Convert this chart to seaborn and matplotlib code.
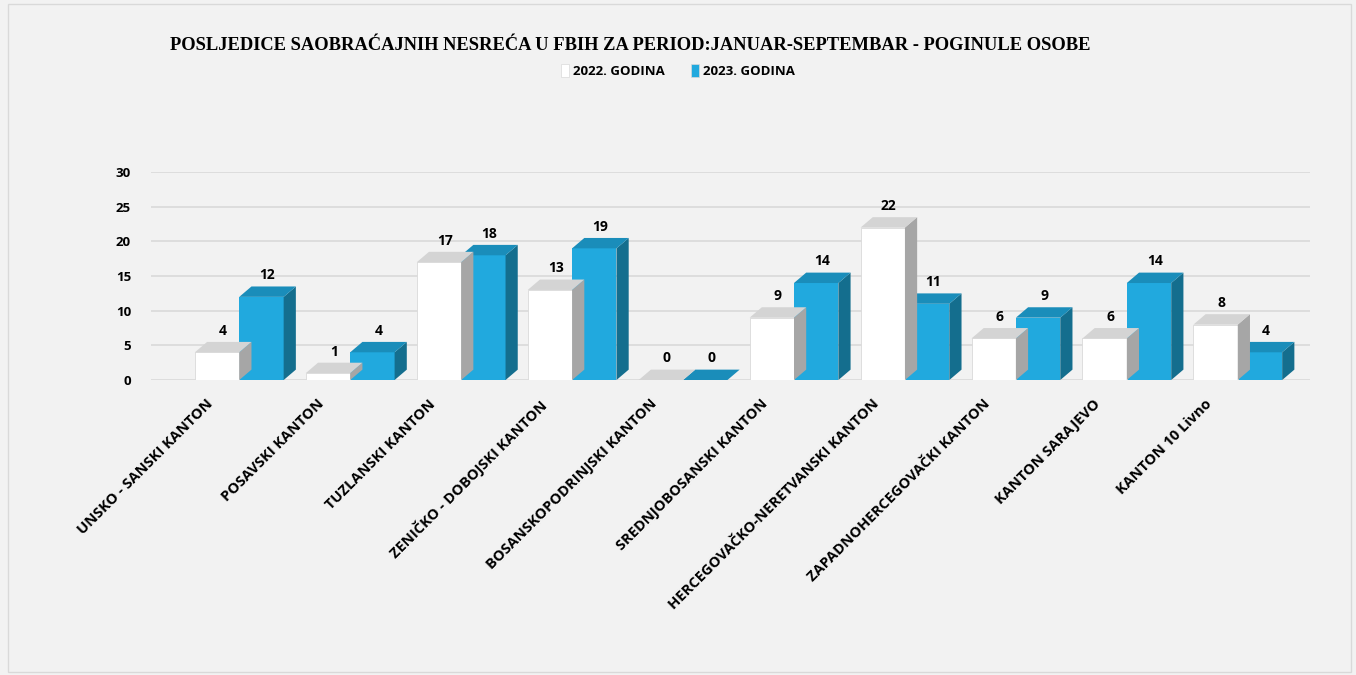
import numpy as np
import pandas as pd
import matplotlib
matplotlib.use("Agg")
import matplotlib.pyplot as plt
from matplotlib.patches import Polygon, Rectangle, Patch
import seaborn as sns

# Data
kantoni = ["UNSKO - SANSKI KANTON", "POSAVSKI KANTON", "TUZLANSKI KANTON",
           "ZENIČKO - DOBOJSKI KANTON", "BOSANSKOPODRINJSKI KANTON",
           "SREDNJOBOSANSKI KANTON", "HERCEGOVAČKO-NERETVANSKI KANTON",
           "ZAPADNOHERCEGOVAČKI KANTON", "KANTON SARAJEVO", "KANTON 10 Livno"]
god_2022 = [4, 1, 17, 13, 0, 9, 22, 6, 6, 8]
god_2023 = [12, 4, 18, 19, 0, 14, 11, 9, 14, 4]
serije = ["2022. GODINA", "2023. GODINA"]
y_ticks = [0, 5, 10, 15, 20, 25, 30]

df = pd.DataFrame({"Kanton": kantoni * 2,
                   "Godina": [serije[0]] * len(kantoni) + [serije[1]] * len(kantoni),
                   "Poginuli": god_2022 + god_2023})

bg = "#f2f2f2"
front = {serije[0]: "#ffffff", serije[1]: "#21a9de"}
side = {serije[0]: "#a6a6a6", serije[1]: "#146e8e"}
top = {serije[0]: "#d4d4d4", serije[1]: "#1a8dba"}

sns.set_style("white")
plt.rcParams["font.family"] = ["Open Sans", "DejaVu Sans"]
plt.rcParams["text.color"] = "black"
plt.rcParams["xtick.color"] = "black"
plt.rcParams["ytick.color"] = "black"

fig = plt.figure(figsize=(13.56, 6.75), dpi=100, facecolor=bg)
ax = fig.add_axes([0.111, 0.437, 0.855, 0.308], facecolor=bg)

sns.barplot(data=df, x="Kanton", y="Poginuli", hue="Godina", palette=front,
            order=kantoni, hue_order=serije, width=0.8, linewidth=0,
            saturation=1, legend=False, ax=ax, zorder=3)

ax.set_xlim(-0.8, 9.65)
ax.set_ylim(0, 30)
ax.set_yticks(y_ticks)
ax.yaxis.grid(True, color="#d9d9d9", linewidth=1.2, zorder=0)
for s in ax.spines.values():
    s.set_visible(False)
ax.set_xlabel("")
ax.set_ylabel("")
ax.tick_params(axis="y", length=0, pad=14)
ax.tick_params(axis="x", length=0, pad=12)
for t in ax.get_yticklabels():
    t.set_fontweight("bold")
    t.set_fontsize(9.5)

# pseudo-3D faces derived from the drawn bars
dx, dy = 0.11, 1.5
n = len(kantoni)
for i, bar in enumerate(ax.patches[:2 * n]):
    ser = serije[i // n]
    x, w, h = bar.get_x(), bar.get_width(), bar.get_height()
    z = 5 if ser == serije[0] else 3
    bar.set_zorder(z)
    if ser == serije[0]:
        bar.set_edgecolor("#d9d9d9")
        bar.set_linewidth(0.6)
    ax.add_patch(Polygon([(x + w, 0), (x + w + dx, dy), (x + w + dx, h + dy), (x + w, h)],
                         closed=True, facecolor=side[ser], edgecolor="none", zorder=z))
    ax.add_patch(Polygon([(x, h), (x + dx, h + dy), (x + w + dx, h + dy), (x + w, h)],
                         closed=True, facecolor=top[ser], edgecolor="none", zorder=z))
    ax.text(x + w / 2 + dx / 2, h + dy + 0.6, str(int(h)), ha="center", va="bottom",
            fontsize=10, fontweight="bold", color="black", zorder=6)

ax.set_xticks(np.arange(n) - 0.3)
ax.set_xticklabels(kantoni, rotation=45, ha="right", rotation_mode="anchor",
                   fontsize=10.5, fontweight="bold")

fig.text(0.465, 0.933, "POSLJEDICE SAOBRAĆAJNIH NESREĆA U FBIH ZA PERIOD:JANUAR-SEPTEMBAR - POGINULE OSOBE",
         ha="center", va="center", fontsize=13.3, fontweight="bold", color="black",
         family=["Liberation Serif", "DejaVu Serif"])

handles = [Patch(facecolor=front[s], edgecolor="#d9d9d9", linewidth=0.5) for s in serije]
leg = fig.legend(handles, serije, loc="center", bbox_to_anchor=(0.5, 0.895), ncol=2,
                 frameon=False, prop={"size": 9.5, "weight": "bold"},
                 handlelength=0.6, handleheight=1.1, handletextpad=0.3, columnspacing=2.0)

fig.patches.append(Rectangle((0.006, 0.004), 0.99, 0.99, transform=fig.transFigure,
                             fill=False, edgecolor="#d9d9d9", linewidth=1))

fig.savefig("out.png", dpi=100, facecolor=bg)
